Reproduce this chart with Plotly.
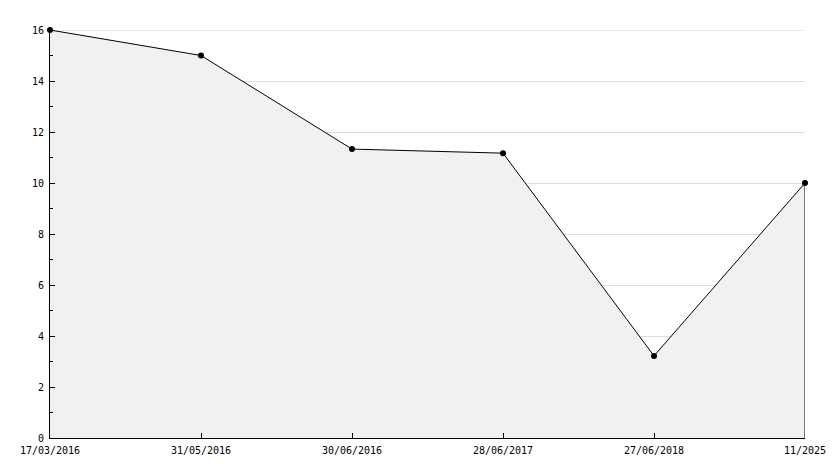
import plotly.graph_objects as go

# Данные графика
dates = ["17/03/2016", "31/05/2016", "30/06/2016", "28/06/2017", "27/06/2018", "11/2025"]
values = [16, 15, 11.33, 11.17, 3.22, 10]

fig = go.Figure()

# Линия с заливкой до нуля
fig.add_trace(go.Scatter(x=dates, y=values,
                         mode="lines+markers",
                         line={"color": "black", "width": 1},
                         marker={"color": "black", "size": 6, "symbol": "circle"},
                         fill="tozeroy",
                         fillcolor="#f1f1f1",
                         cliponaxis=False,
                         showlegend=False))

# Правая граница заливки
fig.add_trace(go.Scatter(x=[dates[-1], dates[-1]], y=[0, values[-1]],
                         mode="lines",
                         line={"color": "black", "width": 1},
                         showlegend=False, hoverinfo="skip"))

# Верхняя линия сетки (plotly не рисует её на краю оси)
fig.add_hline(y=16, line={"color": "#d8d8d8", "width": 1}, layer="below")

# Страница добавляет отступ 8px, поэтому фигура чуть меньше окна
fig.update_layout(width=826, height=460,
                  margin={"l": 42, "r": 29, "t": 22, "b": 30, "autoexpand": False},
                  plot_bgcolor="white", paper_bgcolor="white",
                  font={"family": "DejaVu Sans Mono", "size": 10, "color": "black"})

fig.update_xaxes(type="category", range=[0, 5], automargin=False,
                 showgrid=False, zeroline=False,
                 showline=True, linecolor="black", linewidth=1,
                 ticks="inside", ticklen=5, tickcolor="black",
                 ticklabelstandoff=3)

fig.update_yaxes(range=[0, 16], tickvals=[0, 2, 4, 6, 8, 10, 12, 14, 16],
                 automargin=False,
                 showgrid=True, gridcolor="#dcdcdc", gridwidth=1,
                 zeroline=False,
                 showline=True, linecolor="black", linewidth=1,
                 ticks="inside", ticklen=5, tickcolor="black",
                 ticklabelstandoff=3,
                 minor={"tickvals": [1, 3, 5, 7, 9, 11, 13, 15], "ticks": "inside", "ticklen": 3,
                        "tickcolor": "black", "showgrid": False})

fig.write_html("out.html")
